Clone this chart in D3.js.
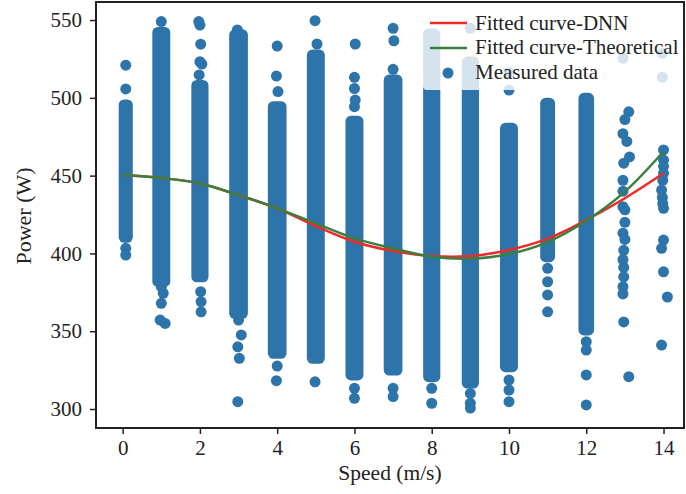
<!DOCTYPE html>
<html>
<head>
<meta charset="utf-8">
<script src="https://cdn.jsdelivr.net/npm/d3@7"></script>
<style>
  body { margin: 0; background: #fff; }
  svg text { font-family: "Liberation Serif", "Times New Roman", Times, "DejaVu Serif", serif !important; }
  .axis path, .axis line { stroke: #222; }
  .axis text { fill: #222; font-size: 21px; }
</style>
</head>
<body>
<div id="viz"></div>
<script>
// speed columns with a dense band of measurements
const speeds = [0.08, 1, 2, 3, 4, 5, 6, 7, 8, 9, 10, 11, 12]
const denseTop = [495.4, 542, 508, 540.5, 494.3, 527.5, 485, 511.4, 541, 523, 480.4, 496.5, 499.7]
const denseBottom = [410.4, 382, 385, 361.5, 335.8, 332.6, 321.9, 325, 320.8, 316.7, 327.2, 397.9, 350.8]
// half spread of measured speed inside each column (m/s)
const speedSpread = [0.04, 0.09, 0.08, 0.1, 0.1, 0.09, 0.09, 0.1, 0.08, 0.08, 0.09, 0.05, 0.06]

// single measurements outside the dense bands: [speed, power]
const outliers = [
  [0.08, 521], [0.08, 505.7], [0.08, 403.3], [0.08, 399],
  [1, 549], [1, 378.6], [1.05, 374.4], [1, 367.9], [0.97, 357.2], [1.1, 355],
  [1.97, 549], [2, 546.8], [2.02, 534.5], [2, 523.2], [2.05, 521.7], [1.98, 514.7],
  [2.02, 375.4], [2.03, 369], [2.03, 362.5],
  [2.97, 543.6], [3, 357.2], [3.07, 347.6], [2.98, 340], [3.02, 332.6], [2.98, 304.7],
  [4, 533.3], [3.98, 514], [4.02, 504], [4, 327.6], [3.98, 318.2],
  [4.98, 549.6], [5.03, 534.6], [4.98, 317.5],
  [6.02, 534.6], [6, 513.2], [6, 506], [6.02, 498.6], [6, 494.3], [6, 313.3], [6, 306.9],
  [7, 544.7], [7.02, 536.7], [7, 518.3], [7, 313.3], [7, 308],
  [8, 313.3], [8, 303.7],
  [9, 544.7], [9, 310], [9, 303.7], [9, 300.6],
  [10, 516], [10, 505], [10, 318.6], [10, 312.2], [10, 304.7],
  [11, 390.4], [11, 381.8], [11, 373.3], [11, 362.5],
  [12, 343.3], [12, 337.9], [12, 321.9], [12, 302.6],
  [12.95, 525.4], [13.1, 491], [13, 486], [12.95, 477], [13.05, 472], [13.12, 462],
  [12.97, 458], [12.95, 447], [12.95, 440], [12.95, 430], [13, 428], [13, 420],
  [12.95, 413], [13, 409], [12.97, 402], [12.95, 396], [12.97, 391], [12.97, 385],
  [12.95, 378.6], [12.95, 374], [12.97, 356], [13.1, 320.8],
  [13.97, 528.6], [13.97, 513.2], [14, 466.5], [14, 460], [14, 456], [14, 451.5],
  [13.98, 447], [13.95, 440.7], [13.97, 436], [13.98, 432], [14, 429], [14, 408.6],
  [13.95, 403.3], [14, 388.2], [14.1, 372], [13.95, 341.1]
]

// fitted curves
const curveSpeed = [0, 1, 2, 3, 4, 5, 6, 7, 8, 9, 10, 11, 12, 13, 14]
const dnnPower = [450.4, 448.5, 445, 437.5, 429, 417.5, 407.5, 401.5, 398.3, 398.3, 402.2, 409.5, 421.5, 435.5, 451.5]
const theoPower = [450.4, 448.5, 445, 437.5, 429, 419.3, 409.7, 403.3, 397.9, 396.6, 399.6, 407.3, 421, 439.7, 465.5]

const xTicks = [0, 2, 4, 6, 8, 10, 12, 14]
const yTicks = [300, 350, 400, 450, 500, 550]

const legendLabels = ['Fitted curve-DNN', 'Fitted curve-Theoretical', 'Measured data']

const BLUE = '#2d74ab'
const RED = '#f02a25'
const GREEN = '#3a7f40'
const R = 5.5

const margin = { top: 2, right: 2, bottom: 66, left: 96 }
const width = 686 - margin.left - margin.right
const height = 494 - margin.top - margin.bottom

const svg = d3.select('#viz')
  .append('svg')
  .attr('width', 686)
  .attr('height', 494)

const g = svg.append('g')
  .attr('transform', `translate(${margin.left}, ${margin.top})`)

const x = d3.scaleLinear().domain([-0.69, 14.53]).range([0, width])
const y = d3.scaleLinear().domain([287.8, 561.6]).range([height, 0])

// dense bands: many overlapping dots drawn as one rounded band
g.append('g')
  .selectAll('rect')
  .data(speeds.map((s, i) => ({ s, top: denseTop[i], bottom: denseBottom[i], d: speedSpread[i] })))
  .join('rect')
  .attr('x', d => x(d.s - d.d) - R)
  .attr('width', d => x(d.s + d.d) - x(d.s - d.d) + 2 * R)
  .attr('y', d => y(d.top) - R)
  .attr('height', d => y(d.bottom) - y(d.top) + 2 * R)
  .attr('rx', R)
  .attr('fill', BLUE)

g.append('g')
  .selectAll('circle')
  .data(outliers)
  .join('circle')
  .attr('cx', d => x(d[0]))
  .attr('cy', d => y(d[1]))
  .attr('r', R)
  .attr('fill', BLUE)

const line = d3.line()
  .x(d => x(d[0]))
  .y(d => y(d[1]))
  .curve(d3.curveCatmullRom)

g.append('path')
  .datum(curveSpeed.map((s, i) => [s, dnnPower[i]]))
  .attr('d', line)
  .attr('fill', 'none')
  .attr('stroke', RED)
  .attr('stroke-width', 2.5)

g.append('path')
  .datum(curveSpeed.map((s, i) => [s, theoPower[i]]))
  .attr('d', line)
  .attr('fill', 'none')
  .attr('stroke', GREEN)
  .attr('stroke-width', 2.5)

// axes
g.append('g')
  .attr('class', 'x axis')
  .attr('transform', `translate(0, ${height})`)
  .call(d3.axisBottom(x).tickValues(xTicks).tickSize(6).tickPadding(6))

g.append('g')
  .attr('class', 'y axis')
  .call(d3.axisLeft(y).tickValues(yTicks).tickSize(6).tickPadding(8))

g.selectAll('.axis .domain').remove()
g.selectAll('.axis line').attr('stroke-width', 1.5)

g.append('rect')
  .attr('width', width)
  .attr('height', height)
  .attr('fill', 'none')
  .attr('stroke', '#222')
  .attr('stroke-width', 2)

svg.append('text')
  .text('Speed (m/s)')
  .attr('x', margin.left + width / 2)
  .attr('y', 480)
  .attr('text-anchor', 'middle')
  .attr('font-size', 21.5)
  .attr('fill', '#222')

svg.append('text')
  .text('Power (W)')
  .attr('transform', 'translate(31, 216) rotate(-90)')
  .attr('text-anchor', 'middle')
  .attr('font-size', 22)
  .attr('fill', '#222')

// legend
const legend = svg.append('g')
  .attr('transform', 'translate(423, 6)')

legend.append('rect')
  .attr('width', 258)
  .attr('height', 84)
  .attr('rx', 4)
  .attr('fill', '#fff')
  .attr('fill-opacity', 0.8)

legend.append('line')
  .attr('x1', 7).attr('x2', 44).attr('y1', 17).attr('y2', 17)
  .attr('stroke', RED).attr('stroke-width', 2.5)

legend.append('line')
  .attr('x1', 7).attr('x2', 44).attr('y1', 42).attr('y2', 42)
  .attr('stroke', GREEN).attr('stroke-width', 2.5)

legend.append('circle')
  .attr('cx', 25).attr('cy', 67).attr('r', R)
  .attr('fill', BLUE)

legend.selectAll('text.label')
  .data(legendLabels)
  .join('text')
  .attr('class', 'label')
  .text(d => d)
  .attr('x', 52)
  .attr('y', (d, i) => 23.5 + i * 24.5)
  .attr('font-size', 21)
  .attr('fill', '#222')
</script>
</body>
</html>
